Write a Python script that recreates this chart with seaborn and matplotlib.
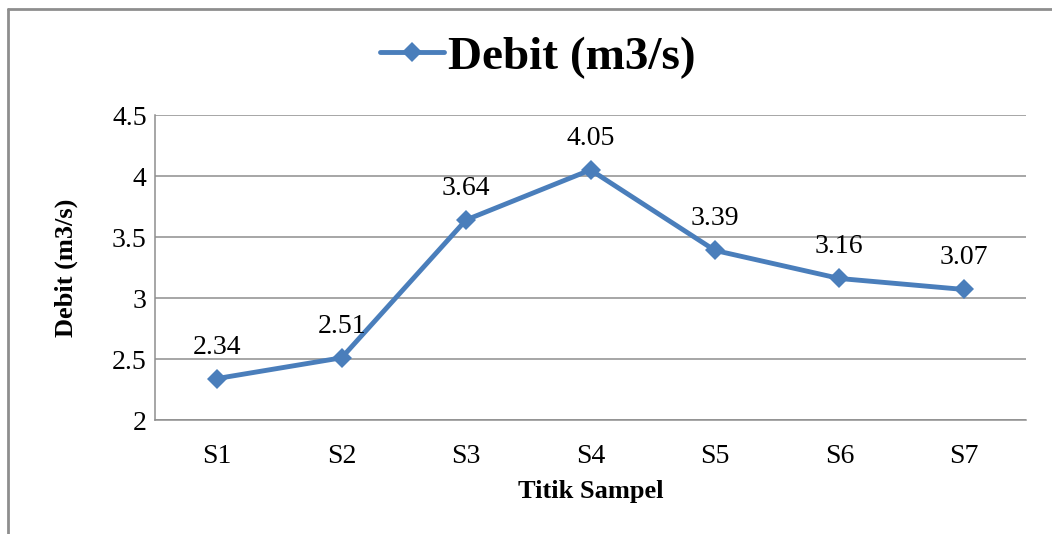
import pandas as pd
import matplotlib.pyplot as plt
import seaborn as sns
from matplotlib.lines import Line2D

# data
titik = ['S1', 'S2', 'S3', 'S4', 'S5', 'S6', 'S7']
debit = [2.34, 2.51, 3.64, 4.05, 3.39, 3.16, 3.07]
y_ticks = [2, 2.5, 3, 3.5, 4, 4.5]
y_tick_labels = ['2', '2.5', '3', '3.5', '4', '4.5']

df = pd.DataFrame({'Titik Sampel': titik, 'Debit (m3/s)': debit})

sns.set_theme(style='white')
plt.rcParams['font.family'] = ['Liberation Serif', 'DejaVu Serif']
plt.rcParams['text.color'] = 'black'
plt.rcParams['axes.labelcolor'] = 'black'

blue = '#4A7EBB'
grey = '#8E8E8E'

fig = plt.figure(figsize=(10.52, 5.34), dpi=100)
ax = fig.add_axes([155 / 1052, 1 - 420 / 534, 871 / 1052, 305 / 534])

sns.lineplot(data=df, x='Titik Sampel', y='Debit (m3/s)', sort=False, ax=ax,
             color=blue, linewidth=3.5, marker='D', markersize=10.5,
             markeredgewidth=0, label='Debit (m3/s)')

# value labels above points
for i, v in enumerate(debit):
    ax.annotate(f'{v:.2f}', (i, v), xytext=(0, 18), textcoords='offset points',
                ha='center', va='baseline', fontsize=20, color='black')

ax.set_xlim(-0.5, len(titik) - 0.5)
ax.set_ylim(2, 4.5)
ax.set_yticks(y_ticks)
ax.set_yticklabels(y_tick_labels)
ax.yaxis.grid(True, color=grey, linewidth=1.1)
ax.set_axisbelow(True)

for s in ['top', 'right']:
    ax.spines[s].set_visible(False)
for s in ['left', 'bottom']:
    ax.spines[s].set_color(grey)
    ax.spines[s].set_linewidth(1.1)

ax.tick_params(axis='both', length=0, labelsize=20, colors='black')
ax.tick_params(axis='x', pad=17)
ax.tick_params(axis='y', pad=6)

ax.set_xlabel('Titik Sampel', fontsize=19, fontweight='bold', color='black')
ax.set_ylabel('Debit (m3/s)', fontsize=19, fontweight='bold', color='black')
ax.xaxis.set_label_coords(0.5, -0.235)
ax.xaxis.label.set_va('center')
ax.yaxis.set_label_coords(-0.102, 0.5)
ax.yaxis.label.set_va('center')

# legend used as title
handles, labels = ax.get_legend_handles_labels()
ax.get_legend().remove()
leg = fig.legend(handles, labels, loc='center', bbox_to_anchor=(0.511, 0.893),
                 frameon=False, prop={'size': 34, 'weight': 'bold'},
                 handlelength=1.35, handletextpad=0.08, borderpad=0)
for t in leg.get_texts():
    t.set_color('black')

# chart border (cropped at right/bottom)
fig.add_artist(Line2D([8 / 1052, 8 / 1052], [0, 1 - 9 / 534], color=grey, linewidth=2,
                      transform=fig.transFigure))
fig.add_artist(Line2D([8 / 1052, 1], [1 - 9 / 534, 1 - 9 / 534], color=grey, linewidth=2,
                      transform=fig.transFigure))

fig.savefig('out.png', dpi=100)
